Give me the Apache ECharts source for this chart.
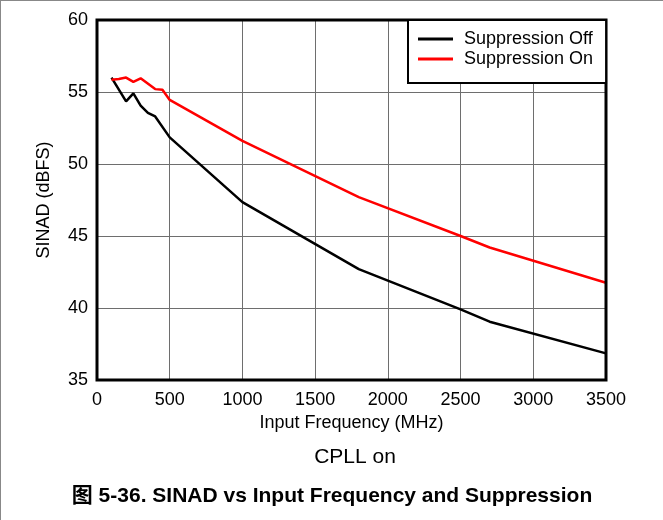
<!DOCTYPE html>
<html>
<head>
<meta charset="utf-8">
<title>SINAD vs Input Frequency and Suppression</title>
<script src="https://cdn.jsdelivr.net/npm/echarts@6/dist/echarts.min.js"></script>
<style>
  html, body { margin: 0; padding: 0; background: #fff; }
  #chart { width: 663px; height: 520px; }
</style>
</head>
<body>
<div id="chart"></div>
<script>
// Input frequency (MHz) and SINAD (dBFS) for each suppression setting
const freqOff = [100, 200, 250, 300, 350, 400, 500, 1000, 1800, 2500, 2700, 3500];
const sinadOff = [56.0, 54.35, 54.9, 54.05, 53.55, 53.3, 51.85, 47.35, 42.7, 39.9, 39.05, 36.85];

const freqOn = [100, 150, 200, 250, 300, 400, 450, 500, 1000, 1800, 2500, 2700, 3500];
const sinadOn = [55.85, 55.9, 56.0, 55.7, 55.95, 55.2, 55.15, 54.45, 51.6, 47.7, 45.0, 44.2, 41.75];

const seriesNames = ['Suppression Off', 'Suppression On'];
const xTitle = 'Input Frequency (MHz)';
const yTitle = 'SINAD (dBFS)';
const subCaption = 'CPLL on';
const caption = '图 5-36. SINAD vs Input Frequency and Suppression';

const FONT = '"Liberation Sans", Arial, "Noto Sans CJK SC", sans-serif';

// plot frame in pixels
const G = { left: 97, right: 57, top: 20, bottom: 140 };
const W = 663, H = 520;

const pairs = (xs, ys) => xs.map((x, i) => [x, ys[i]]);

const chart = echarts.init(document.getElementById('chart'), null, { renderer: 'canvas' });

chart.setOption({
  animation: false,
  backgroundColor: '#fff',
  textStyle: { fontFamily: FONT },
  grid: { left: G.left, right: G.right, top: G.top, bottom: G.bottom, show: false },
  xAxis: {
    type: 'value', min: 0, max: 3500, interval: 500,
    name: xTitle, nameLocation: 'middle', nameGap: 31,
    nameTextStyle: { color: '#000', fontSize: 18, fontFamily: FONT },
    axisLine: { show: false }, axisTick: { show: false },
    axisLabel: { color: '#000', fontSize: 18, margin: 11, fontFamily: FONT, formatter: v => String(v) },
    splitLine: { show: true, lineStyle: { color: '#6e6e6e', width: 1 } }
  },
  yAxis: {
    type: 'value', min: 35, max: 60, interval: 5,
    name: yTitle, nameLocation: 'middle', nameGap: 44, nameRotate: 90,
    nameTextStyle: { color: '#000', fontSize: 18, fontFamily: FONT },
    axisLine: { show: false }, axisTick: { show: false },
    axisLabel: { color: '#000', fontSize: 18, margin: 9, fontFamily: FONT },
    splitLine: { show: true, lineStyle: { color: '#6e6e6e', width: 1 } }
  },
  legend: {
    orient: 'vertical', left: 408, top: 20,
    padding: [9, 13, 14, 10],
    itemGap: 0, itemWidth: 35, itemHeight: 3, icon: 'rect',
    backgroundColor: '#fff', borderColor: '#000', borderWidth: 2,
    textStyle: { color: '#000', fontSize: 18, lineHeight: 20, fontFamily: FONT, padding: [0, 0, 0, 6] },
    data: seriesNames,
    z: 20
  },
  series: [
    {
      name: seriesNames[0], type: 'line', data: pairs(freqOff, sinadOff),
      symbol: 'none', lineStyle: { color: '#000', width: 2.5 }, itemStyle: { color: '#000' }, z: 3
    },
    {
      name: seriesNames[1], type: 'line', data: pairs(freqOn, sinadOn),
      symbol: 'none', lineStyle: { color: '#ff0000', width: 2.5 }, itemStyle: { color: '#ff0000' }, z: 4
    }
  ],
  graphic: [
    { type: 'rect', z: 1, shape: { x: 0, y: 0, width: W, height: 1 }, style: { fill: '#888' }, silent: true },
    { type: 'rect', z: 1, shape: { x: 0, y: 0, width: 1, height: H }, style: { fill: '#888' }, silent: true },
    {
      type: 'rect', z: 10, silent: true,
      shape: { x: G.left, y: G.top, width: W - G.left - G.right, height: H - G.top - G.bottom },
      style: { fill: 'none', stroke: '#000', lineWidth: 3 }
    },
    {
      type: 'text', x: 355, y: 457, silent: true,
      style: { text: subCaption, fill: '#000', font: '21px ' + FONT, align: 'center', verticalAlign: 'middle' }
    },
    {
      type: 'text', x: 332, y: 496, silent: true,
      style: { text: caption, fill: '#000', font: 'bold 21px ' + FONT, align: 'center', verticalAlign: 'middle' }
    }
  ]
});
</script>
</body>
</html>
